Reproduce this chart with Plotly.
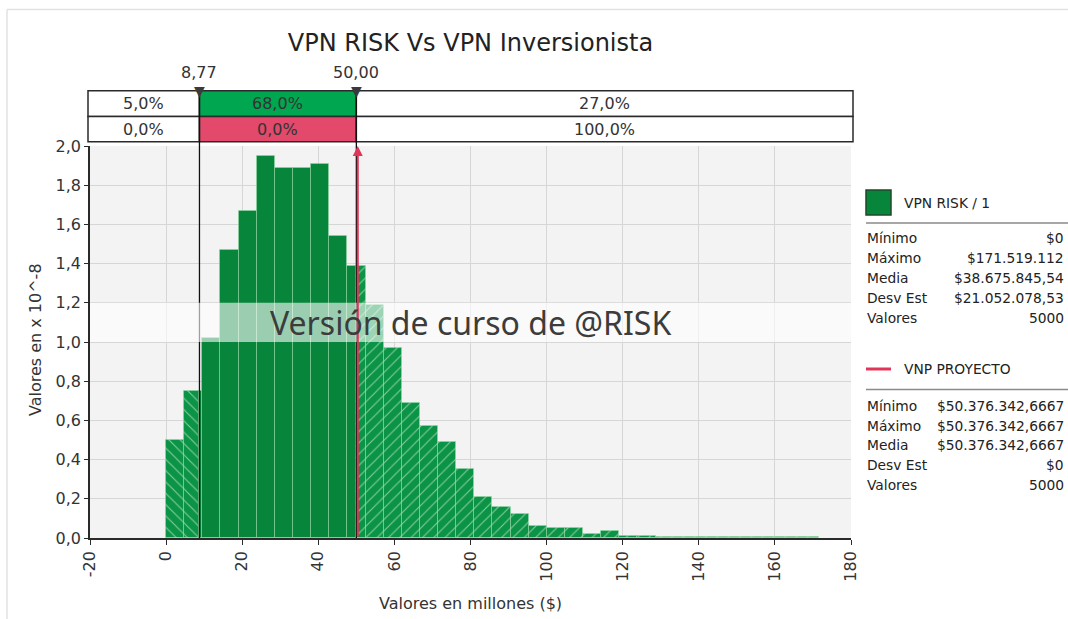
import plotly.graph_objects as go

# ---------------- data ----------------
title_text = "VPN RISK Vs VPN Inversionista"
x_title = "Valores en millones ($)"
y_title = "Valores en x 10^-8"

# histogram densities (x 10^-8), 36 equal bins between min and max (millions)
bin_min = 0.0
bin_max = 171.519112
densities = [0.50, 0.75, 1.02, 1.47, 1.67, 1.95, 1.89, 1.89, 1.91, 1.54,
             1.39, 1.19, 0.97, 0.69, 0.57, 0.49, 0.35, 0.21, 0.16, 0.12,
             0.06, 0.05, 0.05, 0.02, 0.035, 0.01, 0.01, 0.006, 0.005, 0.004,
             0.004, 0.004, 0.003, 0.003, 0.003, 0.003]

cut_low = 8.77
cut_high = 50.00
vnp_proyecto = 50.3763426667

row_risk_pct = [5.0, 68.0, 27.0]
row_proj_pct = [0.0, 0.0, 100.0]

stat_labels = ["Mínimo", "Máximo", "Media", "Desv Est", "Valores"]
risk_stats = ["$0", "$171.519.112", "$38.675.845,54", "$21.052.078,53", "5000"]
proj_stats = ["$50.376.342,6667", "$50.376.342,6667", "$50.376.342,6667", "$0", "5000"]
legend_risk = "VPN RISK / 1"
legend_proj = "VNP PROYECTO"

x_ticks = list(range(-20, 181, 20))
X_RANGE = [-20, 180]

# ---------------- layout helpers ----------------
W, H = 1068, 619
ML, MR, MT, MB = 90, 217, 146, 81
PW = W - ML - MR
PH = H - MT - MB
Y_MAX = 2.0
FONT = "DejaVu Sans"
TXT = "#333333"


def px_x(px):
    return (px - ML) / PW


def px_y(py):
    return (H - MB - py) / PH


def data_to_paper_x(v):
    return (v - X_RANGE[0]) / (X_RANGE[1] - X_RANGE[0])


def fmt_pct(v):
    return f"{v:.1f}%".replace(".", ",")


def fmt_num(v):
    return f"{v:.2f}".replace(".", ",")


# ---------------- bars split at the cut values ----------------
n = len(densities)
w = (bin_max - bin_min) / n
centers, widths, heights, colors, patterns = [], [], [], [], []
for i, d in enumerate(densities):
    a = bin_min + i * w
    b = a + w
    pts = [a] + [c for c in (cut_low, cut_high) if a < c < b] + [b]
    for p0, p1 in zip(pts[:-1], pts[1:]):
        mid = (p0 + p1) / 2
        centers.append(mid)
        widths.append(p1 - p0)
        heights.append(d)
        if mid < cut_low:
            colors.append("#0B9445")
            patterns.append("\\")
        elif mid > cut_high:
            colors.append("#0B9445")
            patterns.append("/")
        else:
            colors.append("#07863B")
            patterns.append("")

fig = go.Figure()
fig.add_trace(go.Bar(
    x=centers, y=heights, width=widths,
    marker=dict(
        color=colors,
        line=dict(color="rgba(150,215,165,0.55)", width=1),
        pattern=dict(shape=patterns, fillmode="overlay",
                     fgcolor="rgba(255,255,255,0.33)", size=8, solidity=0.14),
    ),
    showlegend=False, hoverinfo="skip",
))

shapes = []
# ---------------- table ----------------
t_top, t_mid, t_bot = px_y(90.7), px_y(116.5), px_y(141.7)
t_left, t_right = px_x(88), px_x(853)
xs = [t_left, data_to_paper_x(cut_low), data_to_paper_x(cut_high), t_right]
row_fills = [["white", "#00A650", "white"], ["white", "#E2496A", "white"]]
rows = [row_risk_pct, row_proj_pct]
for r, (y0, y1) in enumerate([(t_mid, t_top), (t_bot, t_mid)]):
    for k in range(3):
        shapes.append(dict(type="rect", xref="paper", yref="paper",
                           x0=xs[k], x1=xs[k + 1], y0=y0, y1=y1,
                           fillcolor=row_fills[r][k],
                           line=dict(color="#2a2a2a", width=1.5), layer="above"))
        fig.add_annotation(x=(xs[k] + xs[k + 1]) / 2, y=(y0 + y1) / 2, xref="paper", yref="paper",
                           text=fmt_pct(rows[r][k]), showarrow=False,
                           font=dict(family=FONT, size=16, color=TXT),
                           xanchor="center", yanchor="middle")

# vertical black lines at the cut values
for c in (cut_low, cut_high):
    shapes.append(dict(type="line", xref="x", yref="paper", x0=c, x1=c, y0=0, y1=t_top,
                       line=dict(color="#111111", width=1.3), layer="above"))

# cut markers (triangles) and labels
for c in (cut_low, cut_high):
    fig.add_annotation(x=c, y=px_y(90.5), xref="x", yref="paper", text="▼",
                       showarrow=False, font=dict(family=FONT, size=14, color="#3a3a3a"),
                       xanchor="center", yanchor="middle")
    fig.add_annotation(x=c, y=px_y(72), xref="x", yref="paper", text=fmt_num(c),
                       showarrow=False, font=dict(family=FONT, size=16, color=TXT),
                       xanchor="center", yanchor="middle")

# watermark band
shapes.append(dict(type="rect", xref="paper", yref="y", x0=0, x1=1, y0=1.0, y1=1.2,
                   fillcolor="rgba(255,255,255,0.6)", line=dict(width=0), layer="above"))

# outer frame (top & left)
shapes.append(dict(type="line", xref="paper", yref="paper", x0=px_x(7), x1=px_x(1068),
                   y0=px_y(9.5), y1=px_y(9.5), line=dict(color="#E2E2E2", width=1.5)))
shapes.append(dict(type="line", xref="paper", yref="paper", x0=px_x(7), x1=px_x(7),
                   y0=px_y(9.5), y1=px_y(619), line=dict(color="#E2E2E2", width=1.5)))

# ---------------- legend panel ----------------
shapes.append(dict(type="rect", xref="paper", yref="paper",
                   x0=px_x(866), x1=px_x(891), y0=px_y(215), y1=px_y(190),
                   fillcolor="#07863B", line=dict(color="#1E4A2A", width=1.5)))
shapes.append(dict(type="line", xref="paper", yref="paper", x0=px_x(866), x1=px_x(1068),
                   y0=px_y(223), y1=px_y(223), line=dict(color="#8a8a8a", width=1.5)))
shapes.append(dict(type="line", xref="paper", yref="paper", x0=px_x(866), x1=px_x(891),
                   y0=px_y(369), y1=px_y(369), line=dict(color="#E03558", width=3)))
shapes.append(dict(type="line", xref="paper", yref="paper", x0=px_x(866), x1=px_x(1068),
                   y0=px_y(389.5), y1=px_y(389.5), line=dict(color="#8a8a8a", width=1.5)))

pfont = dict(family=FONT, size=13.8, color="#222")
fig.add_annotation(x=px_x(902), y=px_y(202.5), xref="paper", yref="paper", text=legend_risk,
                   showarrow=False, xanchor="left", yanchor="middle", font=pfont)
fig.add_annotation(x=px_x(902), y=px_y(369), xref="paper", yref="paper", text=legend_proj,
                   showarrow=False, xanchor="left", yanchor="middle", font=pfont)
for i, lab in enumerate(stat_labels):
    for base, vals in ((238.3, risk_stats), (405.7, proj_stats)):
        yy = px_y(base + i * 19.8)
        fig.add_annotation(x=px_x(865), y=yy, xref="paper", yref="paper", text=lab,
                           showarrow=False, xanchor="left", yanchor="middle", font=pfont)
        fig.add_annotation(x=px_x(1066), y=yy, xref="paper", yref="paper", text=vals[i],
                           showarrow=False, xanchor="right", yanchor="middle", font=pfont)

# red arrow for VNP PROYECTO
fig.add_annotation(x=vnp_proyecto, y=Y_MAX, ax=vnp_proyecto, ay=0, xref="x", yref="y",
                   axref="x", ayref="y", showarrow=True, arrowhead=2, arrowsize=1,
                   arrowwidth=2, arrowcolor="#E03558", text="")

# watermark text
fig.add_annotation(x=0.5, y=1.1, xref="paper", yref="y", text="Versión de curso de @RISK",
                   showarrow=False, font=dict(family="Noto Sans", size=32, color="#3c3c3c"),
                   xanchor="center", yanchor="middle")

# axis titles
fig.add_annotation(x=0.5, y=px_y(603), xref="paper", yref="paper", text=x_title,
                   showarrow=False, font=dict(family=FONT, size=16, color=TXT),
                   xanchor="center", yanchor="middle")
fig.add_annotation(x=px_x(35), y=px_y(340), xref="paper", yref="paper", text=y_title,
                   showarrow=False, textangle=-90, font=dict(family=FONT, size=16, color=TXT),
                   xanchor="center", yanchor="middle")

fig.update_layout(
    width=W, height=H,
    margin=dict(l=ML, r=MR, t=MT, b=MB, autoexpand=False),
    paper_bgcolor="white", plot_bgcolor="#F3F3F3",
    separators=",.",
    bargap=0,
    shapes=shapes,
    title=dict(text=title_text, x=0.5, xref="paper", y=1 - 43 / H, yanchor="middle",
               xanchor="center", font=dict(family=FONT, size=24, color="#222")),
    font=dict(family=FONT, color=TXT),
)
fig.update_xaxes(range=X_RANGE, tickvals=x_ticks, ticktext=[str(v) for v in x_ticks],
                 tickangle=-90,
                 showgrid=True, gridcolor="#D6D6D6", gridwidth=1,
                 showline=True, linecolor="#2a2a2a", linewidth=1.5,
                 ticks="outside", ticklen=5, tickcolor="#2a2a2a",
                 tickfont=dict(family=FONT, size=16, color=TXT), zeroline=False)
fig.update_yaxes(range=[0, Y_MAX], dtick=0.2, tickformat=".1f",
                 showgrid=True, gridcolor="#D6D6D6", gridwidth=1,
                 showline=True, linecolor="#2a2a2a", linewidth=1.5,
                 ticks="outside", ticklen=4, tickcolor="#2a2a2a",
                 tickfont=dict(family=FONT, size=16, color=TXT), zeroline=False)

fig.write_html("out.html", config={"displayModeBar": False},
               post_script="document.body.style.margin='0px';")
